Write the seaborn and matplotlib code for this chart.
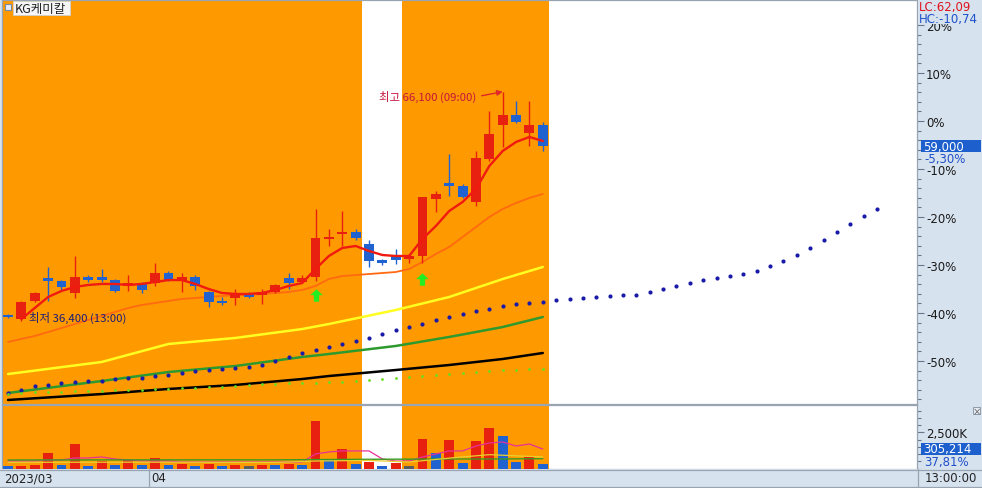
import numpy as np
import pandas as pd
import matplotlib
matplotlib.use("Agg")
import matplotlib.pyplot as plt
from matplotlib.path import Path
from matplotlib.patches import Rectangle
from matplotlib.lines import Line2D
import seaborn as sns

# ---------------- data ----------------
title = "KG케미칼"
base_price = 62302          # price that is 0% (59,000 = -5.30%)
last_price = 59000
last_volume = 305214

opens = [37100, 36600, 38950, 41900, 41550, 40000, 42050, 42050, 41650, 40900,
         41250, 41250, 42550, 41550, 42050, 40100, 38950, 39350, 40000, 39700,
         40100, 41900, 41400, 42050, 47000, 47650, 47900, 46350, 44250, 44800,
         44400, 44800, 52200, 54300, 53900, 51800, 57400, 61800, 63100, 60700, 61800]
highs = [37250, 38950, 40100, 43350, 41650, 44800, 42300, 43100, 41800, 42300,
         41400, 43850, 42850, 42550, 42300, 40250, 39450, 40500, 40100, 40500,
         41150, 42550, 42300, 50900, 48300, 50600, 48300, 46850, 44400, 45700,
         45050, 52500, 53200, 58000, 54100, 58400, 63600, 66100, 64900, 64900, 62200]
lows = [36750, 36400, 38800, 38950, 40350, 39350, 41400, 41400, 40100, 40250,
        40000, 40900, 41550, 40100, 40350, 38150, 38400, 38400, 39350, 38550,
        40000, 40500, 41250, 41550, 46100, 46100, 46850, 43350, 43600, 43750,
        43850, 43850, 50500, 52600, 52300, 51300, 57100, 58900, 62000, 59100, 58400]
closes = [36850, 38800, 40000, 41550, 40750, 42050, 41650, 41650, 40250, 41250,
          40350, 42550, 41650, 42050, 40900, 38800, 38700, 40000, 39450, 40100,
          41000, 41250, 41900, 47100, 47250, 47900, 47100, 44150, 43850, 44250,
          44800, 52400, 52800, 53900, 52400, 57500, 60600, 63100, 62200, 61800, 59000]

ma_red = [np.nan, 36600, 38030, 39460, 40240, 40760, 41020, 41150, 41150, 41020,
          41150, 41400, 41660, 41660, 41150, 40500, 39980, 39850, 39850, 39980,
          40370, 40890, 41270, 43090, 44780, 45820, 46080, 45430, 44910, 44780,
          44780, 46990, 48670, 50620, 51790, 53480, 56460, 58410, 59580, 60230, 59710]
ma_orange = [33620, 34010, 34400, 34910, 35430, 35950, 36470, 36990, 37510, 38030,
             38420, 38680, 38940, 39200, 39330, 39460, 39590, 39720, 39720, 39850,
             39980, 40110, 40370, 40890, 41790, 42180, 42310, 42440, 42570, 42700,
             43090, 44000, 45040, 45950, 47250, 48540, 49840, 50880, 51660, 52310, 52830]

long_idx = [0, 7, 12, 17, 22, 24, 29, 33, 37, 40]
ma_yellow = [29460, 31020, 33360, 34140, 35300, 35950, 37770, 39460, 41790, 43350]
ma_green = [27000, 28550, 29720, 30500, 31670, 32060, 33100, 34270, 35560, 36860]
ma_black = [26090, 26860, 27520, 28040, 28810, 29200, 29980, 30630, 31410, 32190]

span_dots = [27000, 27390, 27910, 28040, 28290, 28420, 28550, 28550, 28810, 28940,
             28940, 29200, 29330, 29590, 29850, 29980, 30110, 30240, 30370, 30630,
             31150, 31670, 32190, 32580, 32970, 33360, 33750, 34140, 34660, 35170,
             35560, 35950, 36470, 36860, 37250, 37640, 37900, 38290, 38550, 38680,
             38810, 39070, 39200, 39330, 39460, 39590, 39720, 39720, 40110, 40500,
             40890, 41270, 41660, 41920, 42180, 42440, 42830, 43480, 44130, 44910,
             45820, 46860, 47890, 48930, 49970, 50880]
lag_dots = [26870, 27000, 27130, 27130, 27130, 27260, 27260, 27260, 27390, 27390,
            27390, 27520, 27520, 27650, 27650, 27780, 27780, 27910, 28040, 28170,
            28170, 28290, 28290, 28290, 28420, 28420, 28550, 28680, 28810, 28940,
            29070, 29200, 29330, 29460, 29590, 29720, 29850, 29980, 29980, 30110, 30110]

signal_idx = [23, 31]
signal_price = [39700, 41800]

volumes = [140000, 160000, 210000, 1110000, 210000, 1670000, 200000, 490000, 210000, 620000,
           220000, 760000, 210000, 280000, 200000, 290000, 190000, 260000, 150000, 270000,
           210000, 280000, 220000, 3330000, 560000, 1320000, 280000, 480000, 200000, 410000,
           150000, 2080000, 1110000, 2010000, 350000, 1940000, 2780000, 2290000, 420000, 830000,
           305214]
vol_dir = ['b', 'r', 'r', 'r', 'b', 'r', 'b', 'r', 'b', 'r', 'b', 'r', 'b', 'r', 'b', 'r',
           'b', 'r', 'g', 'r', 'b', 'r', 'b', 'r', 'b', 'r', 'b', 'r', 'b', 'r', 'g', 'r',
           'b', 'r', 'b', 'r', 'r', 'b', 'b', 'r', 'b']
vol_ma_pink = [520, 520, 520, 590, 590, 730, 730, 800, 660, 590, 520, 520, 520, 450, 450,
               450, 450, 450, 450, 450, 450, 450, 450, 1010, 1150, 1220, 1220, 1220, 660, 520,
               520, 800, 1010, 1220, 1220, 1560, 1770, 1840, 1560, 1700, 1350]
vol_ma_idx = [0, 10, 20, 23, 27, 30, 33, 36, 40]
vol_ma_green = [590, 600, 600, 620, 640, 650, 660, 660, 680]
vol_ma_yellow = [430, 440, 420, 520, 560, 450, 720, 960, 800]

pct_ticks = [20, 10, 0, -10, -20, -30, -40, -50]
date_labels = ["2023/03", "04"]

# ---------------- style ----------------
sns.set_theme(style="white")
plt.rcParams['font.family'] = ['Noto Sans CJK KR', 'DejaVu Sans']
NUMFONT = ['Liberation Sans Narrow', 'DejaVu Sans Condensed', 'DejaVu Sans']

RED = "#e8200f"
BLUE = "#1f62d0"
ORANGE = "#ff9900"
PANEL = "#d7e2ef"
W, H = 982, 489

fig = plt.figure(figsize=(9.82, 4.89), dpi=100, facecolor=PANEL)


def rect(x0, y0, x1, y1):
    return [x0 / W, 1 - y1 / H, (x1 - x0) / W, (y1 - y0) / H]


ax = fig.add_axes(rect(2, 1, 917, 405))
axv = fig.add_axes(rect(2, 406, 917, 469.5), sharex=ax)
for a in (ax, axv):
    a.set_facecolor("white")
    for s in a.spines.values():
        s.set_color("#98a4b2")
        s.set_linewidth(0.9)

idx = np.arange(len(closes))
o, h, l, c = map(np.asarray, (opens, highs, lows, closes))

ax.set_xlim(-0.45, 67.99)
ax.set_ylim(base_price * (1 - 0.5896), base_price * (1 + 0.2521))

for a in (ax, axv):
    a.axvspan(-0.45, 26.5, color=ORANGE, lw=0, zorder=0)
    a.axvspan(29.5, 40.5, color=ORANGE, lw=0, zorder=0)

# moving averages
df_ma = pd.DataFrame({"i": idx, "red": ma_red, "orange": ma_orange})
sns.lineplot(data=df_ma, x="i", y="orange", ax=ax, color="#ff6a10", lw=1.3, zorder=2)
df_long = pd.DataFrame({"i": long_idx, "y": ma_yellow, "g": ma_green, "k": ma_black})
sns.lineplot(data=df_long, x="i", y="y", ax=ax, color="#ffff20", lw=1.8, zorder=2)
sns.lineplot(data=df_long, x="i", y="g", ax=ax, color="#2e9a2e", lw=1.8, zorder=2)
sns.lineplot(data=df_long, x="i", y="k", ax=ax, color="black", lw=1.8, zorder=2)

# dotted spans
sns.scatterplot(x=np.arange(len(span_dots)), y=span_dots, ax=ax, s=9, color="#1a1aa8",
                linewidth=0, zorder=5)
sns.scatterplot(x=idx, y=lag_dots, ax=ax, s=4, color="#66dd22", linewidth=0, zorder=5)

# candles
cols = np.where(c >= o, RED, BLUE)
ax.vlines(idx, l, h, colors=cols, lw=1.0, zorder=3)
bot = np.minimum(o, c).astype(float)
hgt = np.abs(c - o).astype(float)
mind = 190.0
small = hgt < mind
bot[small] = bot[small] + hgt[small] / 2 - mind / 2
hgt[small] = mind
ax.bar(idx, hgt, bottom=bot, width=0.74, color=cols, lw=0, zorder=4)

sns.lineplot(data=df_ma, x="i", y="red", ax=ax, color="#f01a10", lw=1.7, zorder=4.5)

# signals (green up arrows)
arrow = Path([(0, 1), (-1, 0.05), (-0.42, 0.05), (-0.42, -1), (0.42, -1), (0.42, 0.05),
              (1, 0.05), (0, 1)], closed=True)
ax.scatter(signal_idx, signal_price, marker=arrow, s=80, color="#22ee22", lw=0, zorder=6)

# high / low annotations
hi_i = int(np.argmax(h))
lo_i = int(np.argmin(l))
ax.annotate("", xy=(hi_i, h[hi_i]), xytext=(-21 * 0.72, -4 * 0.72), textcoords="offset points",
            xycoords="data", zorder=7,
            arrowprops=dict(arrowstyle="-|>", color="#e02828", lw=1.0, mutation_scale=8,
                            shrinkA=0, shrinkB=0,
                            relpos=(0, 0.5)))
ax.annotate("", xy=(hi_i - 0.45, h[hi_i]), xytext=(0, 0), textcoords="offset points")
ax.annotate(f"최고 {h[hi_i]:,} (09:00)", xy=(hi_i, h[hi_i]), xytext=(-26 * 0.72, -4.5 * 0.72),
            textcoords="offset points", ha="right", va="center", fontsize=8.2,
            color="#c8143c", zorder=7)
ax.annotate(f"최저 {l[lo_i]:,} (13:00)", xy=(lo_i, l[lo_i]), xytext=(8 * 0.72, 3.5 * 0.72),
            textcoords="offset points", ha="left", va="center", fontsize=8.2,
            color="#1c1c78", zorder=7)
ax.annotate("", xy=(lo_i - 0.55, l[lo_i]), xytext=(0.45, l[lo_i]), xycoords="data",
            textcoords="data", zorder=7,
            arrowprops=dict(arrowstyle="-|>", color="#1a2ad8", lw=1.2, mutation_scale=9,
                            shrinkA=0, shrinkB=0))

# axis ticks (right side)
ax.yaxis.tick_right()
ax.set_yticks([base_price * (1 + k / 100) for k in pct_ticks])
ax.set_yticklabels([f"{k}%" for k in pct_ticks], family=NUMFONT)
ax.set_yticks([base_price * (1 + k / 100) for k in range(-58, 26, 2)], minor=True)
ax.tick_params(axis="y", which="major", right=True, length=5, width=0.8, color="#66788a",
               labelsize=8.5, labelcolor="#1a1a1a", pad=1.5, direction="out")
ax.tick_params(axis="y", which="minor", right=True, length=3, width=0.8, color="#66788a",
               direction="out")
ax.tick_params(axis="x", bottom=False, labelbottom=False)
ax.set_xlabel("")
ax.set_ylabel("")

# volume
vcol = {"r": RED, "b": BLUE, "g": "#5c5c5c"}
axv.bar(idx, volumes, width=0.74, color=[vcol[d] for d in vol_dir], lw=0, zorder=3)
sns.lineplot(x=idx, y=np.array(vol_ma_pink) * 1000, ax=axv, color="#e8309a", lw=0.9, zorder=4)
sns.lineplot(x=vol_ma_idx, y=np.array(vol_ma_green) * 1000, ax=axv, color="#3a9a20", lw=1.0, zorder=4)
sns.lineplot(x=vol_ma_idx, y=np.array(vol_ma_yellow) * 1000, ax=axv, color="#e8d030", lw=0.9, zorder=4)
axv.set_ylim(0, 63.5 * 69400)
axv.yaxis.tick_right()
axv.set_yticks([2500000])
axv.set_yticklabels(["2,500K"], family=NUMFONT)
axv.set_yticks(np.arange(0, 4400000, 500000), minor=True)
axv.tick_params(axis="y", which="major", right=True, length=5, width=0.8, color="#66788a",
                labelsize=8.5, labelcolor="#1a1a1a", pad=1.5)
axv.tick_params(axis="y", which="minor", right=True, length=3, width=0.8, color="#66788a")
axv.tick_params(axis="x", bottom=False, labelbottom=False)
axv.set_xlabel("")
axv.set_ylabel("")


# ---------------- figure-level decorations ----------------
def ftext(x, y, s, **kw):
    fig.text(x / W, 1 - y / H, s, **kw)


def frect(x0, y0, x1, y1, **kw):
    fig.patches.append(Rectangle((x0 / W, 1 - y1 / H), (x1 - x0) / W, (y1 - y0) / H,
                                 transform=fig.transFigure, **kw))


def fline(x0, y0, x1, y1, **kw):
    fig.lines.append(Line2D([x0 / W, x1 / W], [1 - y0 / H, 1 - y1 / H],
                            transform=fig.transFigure, **kw))


# title box
frect(13, 2, 70, 16, facecolor="#f6f6f6", edgecolor="#d0d0d0", lw=0.6, zorder=8)
frect(5, 5, 11, 11, facecolor="#e8eef8", edgecolor="#7c8ca0", lw=0.8, zorder=8)
ftext(15, 9, title, fontsize=9, color="#222222", va="center", ha="left", zorder=9)

# LC / HC
frect(918, 1, 981, 25, facecolor=PANEL, lw=0, zorder=8)
lc = (last_price - min(lows)) / min(lows) * 100
hc = (last_price - max(highs)) / max(highs) * 100
ftext(919, 7, f"LC:{lc:.2f}".replace(".", ","), fontsize=8.5, color="#e0141e", va="center",
      family=NUMFONT, zorder=9)
ftext(919, 19, f"HC:{hc:.2f}".replace(".", ","), fontsize=8.5, color="#1e50c8", va="center",
      family=NUMFONT, zorder=9)

# last price box
pct_last = (last_price / base_price - 1) * 100
frect(921, 141, 981, 153, facecolor="#1d5fcc", lw=0, zorder=8)
ftext(923, 147, f"{last_price:,}", fontsize=8.5, color="white", va="center", family=NUMFONT, zorder=9)
ftext(924, 159, f"{pct_last:.2f}%".replace(".", ","), fontsize=8.5, color="#1e50c8", va="center",
      family=NUMFONT, zorder=9)

# last volume box
frect(921, 444, 981, 456, facecolor="#1d5fcc", lw=0, zorder=8)
ftext(923, 450, f"{last_volume:,}", fontsize=8.5, color="white", va="center", family=NUMFONT, zorder=9)
ftext(924, 463, "37,81%", fontsize=8.5, color="#1e50c8", va="center", family=NUMFONT, zorder=9)

# close box
frect(973, 408, 980, 415, facecolor="#e8ecf2", edgecolor="#8090a0", lw=0.6, zorder=8)
ftext(976.5, 411.5, "×", fontsize=6, color="#404040", va="center", ha="center", zorder=9)

# date bar
frect(0, 470, 982, 489, facecolor=PANEL, lw=0, zorder=7)
fline(0, 470.5, 982, 470.5, color="#98a4b2", lw=0.9, zorder=8)
fline(0, 487.5, 982, 487.5, color="#98a4b2", lw=0.9, zorder=8)
fline(148.5, 470, 148.5, 487, color="#98a4b2", lw=0.9, zorder=8)
fline(917.5, 470, 917.5, 487, color="#98a4b2", lw=0.9, zorder=8)
ftext(4, 479, date_labels[0], fontsize=8.5, color="#222222", va="center", family=NUMFONT, zorder=9)
ftext(151, 479, date_labels[1], fontsize=8.5, color="#222222", va="center", family=NUMFONT, zorder=9)
ftext(925, 479, "13:00:00", fontsize=8.5, color="#222222", va="center", family=NUMFONT, zorder=9)

fig.savefig("out.png", dpi=100, facecolor=PANEL)
